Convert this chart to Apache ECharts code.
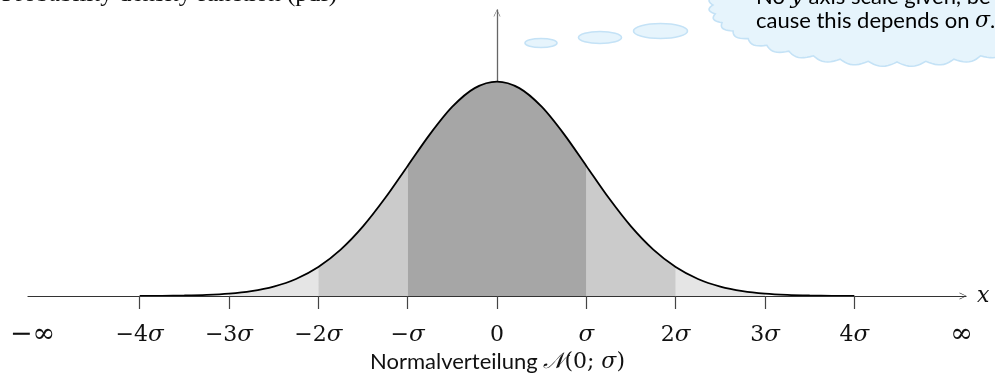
<!DOCTYPE html>
<html>
<head>
<meta charset="utf-8">
<script src="https://cdn.jsdelivr.net/npm/echarts@6/dist/echarts.min.js"></script>
<style>
html,body{margin:0;padding:0;background:#fff;}
#chart{width:995px;height:387px;}
</style>
</head>
<body>
<div id="chart"></div>
<script>
// ---- data (x in units of sigma, density value) ----
const curveX = [-4,-3.75,-3.5,-3.25,-3,-2.75,-2.5,-2.25,-2,-1.75,-1.5,-1.25,-1,-0.75,-0.5,-0.25,0,0.25,0.5,0.75,1,1.25,1.5,1.75,2,2.25,2.5,2.75,3,3.25,3.5,3.75,4];
const curveY = [0.0001,0.0004,0.0009,0.0020,0.0044,0.0091,0.0175,0.0317,0.0540,0.0863,0.1295,0.1826,0.2420,0.3011,0.3521,0.3867,0.3989,0.3867,0.3521,0.3011,0.2420,0.1826,0.1295,0.0863,0.0540,0.0317,0.0175,0.0091,0.0044,0.0020,0.0009,0.0004,0.0001];
const tickValues = [-4,-3,-2,-1,0,1,2,3,4];
const labelValues = [-5.2,-4,-3,-2,-1,0,1,2,3,4,5.2];
const labelTexts = ['−∞','−4σ','−3σ','−2σ','−σ','0','σ','2σ','3σ','4σ','∞'];
const bandDark = [[-1,1]];
const bandMid = [[-2,-1],[1,2]];
const bandLight = [[-3,-2],[2,3]];

const pts = curveX.map((x,i)=>[x,curveY[i]]);
function inBand(b){ return pts.filter(p=>p[0]>=b[0]-1e-9 && p[0]<=b[1]+1e-9); }

const serifMath = '"DejaVu Serif", "Liberation Serif", serif';
const sansText = 'Lato, "Open Sans", sans-serif';

function cloudPoints(cx, cy, rx, ry, n, bulge){
  const out=[];
  const sub=10;
  for(let i=0;i<n;i++){
    for(let k=0;k<sub;k++){
      const f = k/sub;
      const t = 2*Math.PI*(i+f)/n;
      const b = bulge*Math.sin(Math.PI*f);
      out.push([cx+(rx+b)*Math.cos(t), cy+(ry+b)*Math.sin(t)]);
    }
  }
  return out;
}

function bandSeries(bands, color){
  return bands.map(b=>({
    type:'line', data: inBand(b), smooth:0.3, symbol:'none', silent:true,
    lineStyle:{width:0, opacity:0}, areaStyle:{color:color, opacity:1}, z:1
  }));
}

const chevron = 'path://M5,0 L10,10 L9,10 L5,1.4 L1,10 L0,10 Z';
const cloudStyle = {fill:'#e6f4fc', stroke:'#c4e2f6', lineWidth:1.6};

const chart = echarts.init(document.getElementById('chart'), null, {renderer:'canvas'});
chart.setOption({
  animation:false,
  backgroundColor:'#ffffff',
  grid:{left:28, right:29, top:10, bottom:91},
  title:{
    text:'{a|Normalverteilung }{m|𝒩}{r|(0; }{s|σ}{r|)}',
    left:'center', top:346,
    textStyle:{ fontWeight:'normal', rich:{
      a:{fontFamily:sansText, fontSize:22, color:'#111', fontWeight:'normal'},
      m:{fontFamily:serifMath, fontSize:22, color:'#111', fontStyle:'italic', fontWeight:'normal'},
      r:{fontFamily:serifMath, fontSize:22, color:'#111', fontWeight:'normal'},
      s:{fontFamily:serifMath, fontSize:22, color:'#111', fontStyle:'italic', fontWeight:'normal'}
    }}
  },
  xAxis:{
    type:'value', min:-5.25, max:5.25, z:5,
    name:'x', nameLocation:'end', nameGap:11,
    nameTextStyle:{fontFamily:serifMath, fontStyle:'italic', fontSize:22, color:'#111', verticalAlign:'middle', align:'left', padding:[0,0,6,0]},
    axisLine:{onZero:false, lineStyle:{color:'#333', width:1.2}, symbol:['none', chevron], symbolSize:[7,8], symbolOffset:[0,-3]},
    axisTick:{show:true, customValues:tickValues, length:13, lineStyle:{color:'#444', width:1.2}},
    axisLabel:{
      customValues:labelValues, margin:28, color:'#111',
      formatter:function(v){
        let idx=0, best=1e9;
        labelValues.forEach((lv,i)=>{ if(Math.abs(lv-v)<best){best=Math.abs(lv-v); idx=i;} });
        const t = labelTexts[idx];
        if(t.indexOf('σ')>=0){
          const pre = t.replace('σ','');
          return (pre? '{n|'+pre+'}' : '')+'{s|σ}';
        }
        if(t.indexOf('∞')>=0){
          return '{inf|'+t+'}';
        }
        return '{n|'+t+'}';
      },
      rich:{
        n:{fontFamily:serifMath, fontSize:22, color:'#111'},
        s:{fontFamily:serifMath, fontSize:23, color:'#111', fontStyle:'italic'},
        inf:{fontFamily:serifMath, fontSize:27, color:'#111', lineHeight:22}
      }
    },
    splitLine:{show:false}
  },
  yAxis:{
    type:'value', min:0, max:0.532, z:0,
    axisLine:{show:true, onZero:true, lineStyle:{color:'#666', width:1.3}, symbol:['none', chevron], symbolSize:[7,8], symbolOffset:[0,-3]},
    axisTick:{show:false}, axisLabel:{show:false}, splitLine:{show:false}
  },
  graphic:[
    {type:'polygon', shape:{points: cloudPoints(897,5,184,57,40,4.5)}, style:cloudStyle, z:10},
    {type:'ellipse', shape:{cx:541, cy:43, rx:16, ry:4.5}, style:cloudStyle, z:10},
    {type:'ellipse', shape:{cx:600, cy:37.5, rx:21.5, ry:6}, style:cloudStyle, z:10},
    {type:'ellipse', shape:{cx:660.5, cy:31, rx:27, ry:7.5}, style:cloudStyle, z:10},
    {type:'text', left:756, top:-14, z:11, style:{
      text:'{a|No }{i|y}{a| axis scale given, be-}\n{a|cause this depends on }{i|σ}{a|.}',
      rich:{
        a:{fontFamily:sansText, fontSize:22, color:'#111', lineHeight:24},
        i:{fontFamily:serifMath, fontSize:22, color:'#111', fontStyle:'italic', lineHeight:24}
      }
    }},
    {type:'text', right:658, top:-18, z:11, style:{
      text:'Probability density function (pdf)', fontFamily:'"Liberation Serif", serif', fontSize:25, fill:'#111'
    }}
  ],
  series:[
    ...bandSeries(bandLight,'#e5e5e5'),
    ...bandSeries(bandMid,'#cbcbcb'),
    ...bandSeries(bandDark,'#a6a6a6'),
    {type:'line', data:pts, smooth:0.3, symbol:'none', silent:true, lineStyle:{color:'#000', width:1.8}, z:3}
  ]
});
</script>
</body>
</html>
